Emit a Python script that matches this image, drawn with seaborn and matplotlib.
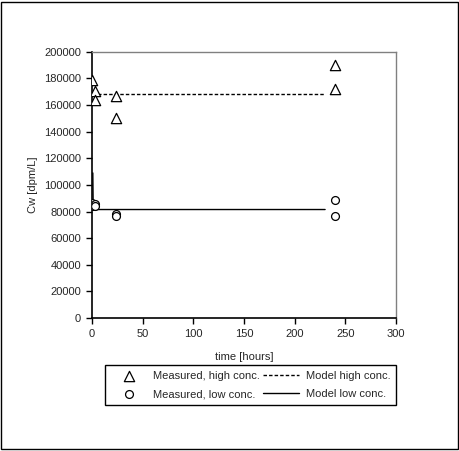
import numpy as np
import pandas as pd
import matplotlib
matplotlib.use("Agg")
import matplotlib.pyplot as plt
import seaborn as sns
from matplotlib.patches import Rectangle

t_high = [0, 3, 3, 24, 24, 240, 240]
cw_high = [179000, 170500, 164000, 166500, 150000, 190000, 172000]
t_low = [0, 1, 3, 3, 24, 24, 240, 240]
cw_low = [86500, 84500, 85500, 84000, 78000, 76500, 88500, 77000]

# model curves
t_model_high = [0, 230]
cw_model_high = [168500, 168500]
t_model_low = [0.8, 1.2, 230]
cw_model_low = [109000, 81500, 81500]

sns.set_style("white")
plt.rcParams["font.family"] = ["Liberation Sans", "DejaVu Sans"]
plt.rcParams["font.size"] = 8

fig = plt.figure(figsize=(4.6, 4.51), dpi=100)
ax = fig.add_axes([0.2, 0.295, 0.661, 0.59])

high = pd.DataFrame({"t": t_high, "cw": cw_high})
low = pd.DataFrame({"t": t_low, "cw": cw_low})
mh = pd.DataFrame({"t": t_model_high, "cw": cw_model_high})
ml = pd.DataFrame({"t": t_model_low, "cw": cw_model_low})

sns.lineplot(data=mh, x="t", y="cw", ax=ax, color="black", lw=1,
             linestyle=(0, (2.5, 1.5)), label="Model high conc.")
sns.lineplot(data=ml, x="t", y="cw", ax=ax, color="black", lw=1,
             label="Model low conc.")
sns.scatterplot(data=high, x="t", y="cw", ax=ax, marker="^", s=55,
                facecolor="white", edgecolor="black", linewidth=0.9,
                label="Measured, high conc.", zorder=3)
sns.scatterplot(data=low, x="t", y="cw", ax=ax, marker="o", s=32,
                facecolor="white", edgecolor="black", linewidth=0.9,
                label="Measured, low conc.", zorder=3)

ax.set_xlim(0, 300)
ax.set_ylim(0, 200000)
ax.set_xticks(np.arange(0, 301, 50))
ax.set_yticks(np.arange(0, 200001, 20000))
ax.set_xlabel("time [hours]", fontsize=8, labelpad=9)
ax.set_ylabel("Cw [dpm/L]", fontsize=8, labelpad=4)
ax.tick_params(axis="both", direction="out", length=4, width=1,
               color="black", labelsize=8, pad=4, left=True, bottom=True)

for side in ["top", "right"]:
    ax.spines[side].set_color("#808080")
    ax.spines[side].set_linewidth(1)
for side in ["left", "bottom"]:
    ax.spines[side].set_color("black")
    ax.spines[side].set_linewidth(1.2)

handles, labels = ax.get_legend_handles_labels()
order = [2, 3, 0, 1]
ax.legend([handles[i] for i in order], [labels[i] for i in order],
          ncol=2, loc="center", bbox_to_anchor=(0.545, 0.146),
          bbox_transform=fig.transFigure, frameon=True, fancybox=False,
          edgecolor="black", framealpha=1, fontsize=8, handlelength=3.2,
          columnspacing=0.3, handletextpad=0.6, borderpad=0.55,
          labelspacing=0.75)
ax.get_legend().get_frame().set_linewidth(1)

fig.patches.append(Rectangle((0.003, 0.004), 0.993, 0.992,
                             transform=fig.transFigure, fill=False,
                             edgecolor="black", linewidth=1))

fig.savefig("out.png", dpi=100)
